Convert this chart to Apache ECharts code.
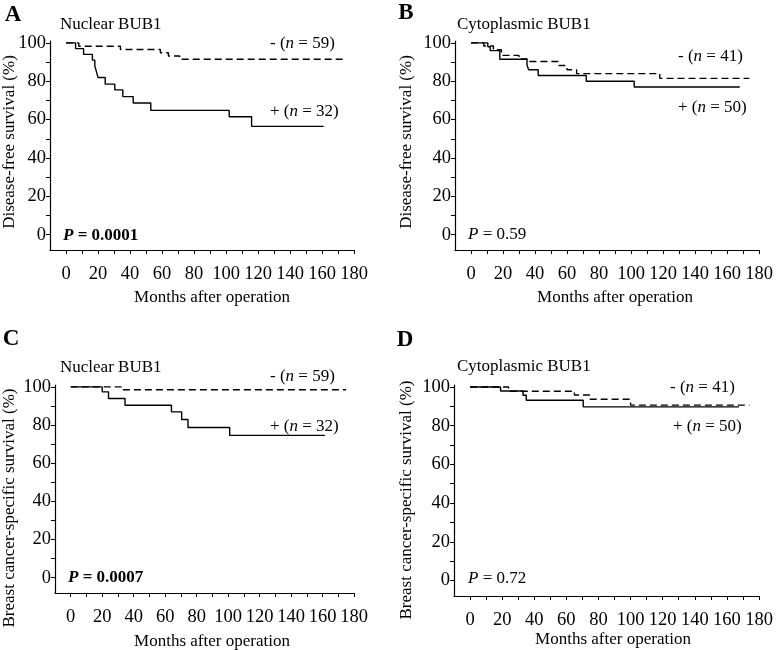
<!DOCTYPE html>
<html>
<head>
<meta charset="utf-8">
<script src="https://cdn.jsdelivr.net/npm/echarts@6/dist/echarts.min.js"></script>
<style>
  html, body { margin: 0; padding: 0; background: #fff; }
  #main { width: 777px; height: 650px; }
</style>
</head>
<body>
<div id="main"></div>
<script>
// tick values
const monthLabels = [0, 20, 40, 60, 80, 100, 120, 140, 160, 180];
const monthTicks = [0, 10, 20, 30, 40, 50, 60, 70, 80, 90, 100, 110, 120, 130, 140, 150, 160, 170, 180];
const survLabels = [0, 20, 40, 60, 80, 100];
const survTicks = [0, 10, 20, 30, 40, 50, 60, 70, 80, 90, 100];

// Kaplan-Meier curves, [month, survival %], value drops at the given month
const nuclearDfsPos = [[0, 100], [6, 97], [11, 94], [16.5, 91], [18, 88], [19, 85], [20, 82], [24.5, 78.5], [30.5, 75.5], [35.5, 72], [42, 68.7], [53, 64.8], [102, 61.5], [116, 56.5], [161, 56.5]];
const nuclearDfsNeg = [[0, 100], [8, 98.3], [34, 96.6], [59, 94.9], [64, 93.2], [71, 91.5], [175, 91.5]];
const cytoDfsPos = [[0, 100], [10.5, 98], [12, 96], [18, 91.5], [35, 88.5], [36, 86], [42, 83], [72, 80], [102, 77], [168, 77]];
const cytoDfsNeg = [[0, 100], [8, 98.4], [14, 96.4], [19, 93.5], [30, 91.7], [35, 90.3], [55, 88.2], [60, 86], [66, 84], [118, 81.5], [174, 81.5]];
const nuclearBcssPos = [[0, 100], [20, 97.4], [24, 93.9], [34.5, 90.4], [64, 86.9], [70.5, 82.9], [74.5, 78.7], [101, 74.6], [161.5, 74.6]];
const nuclearBcssNeg = [[0, 100], [32, 98.5], [175, 98.5]];
const cytoBcssPos = [[0, 100], [19, 97.9], [33, 95.7], [35, 93.1], [70.5, 89.7], [167.5, 89.7]];
const cytoBcssNeg = [[0, 100], [24, 97.8], [65, 95.8], [74.5, 93.6], [100, 90.6], [174, 90.6]];

const serif = '"Liberation Serif", "Times New Roman", serif';
const fs = 17;
const tickFs = 18.5;

const myChart = echarts.init(document.getElementById('main'));

// grids in pixels: A, B, C, D
const grids = [
  { left: 50, top: 41, width: 304, height: 209 },
  { left: 455, top: 41, width: 304, height: 209 },
  { left: 55, top: 385, width: 299, height: 208 },
  { left: 454, top: 385, width: 305, height: 211 }
];

function xAxisFor(i) {
  return {
    type: 'value', gridIndex: i, min: -10, max: 180,
    axisLine: { show: true, onZero: false, lineStyle: { color: '#000', width: 1.2 } },
    axisTick: { show: true, length: 4, customValues: monthTicks, lineStyle: { color: '#000', width: 1 } },
    axisLabel: { customValues: monthLabels, margin: 15, color: '#000', fontFamily: serif, fontSize: tickFs },
    splitLine: { show: false }
  };
}

function yAxisFor(i) {
  return {
    type: 'value', gridIndex: i, min: -8, max: 101,
    axisLine: { show: true, onZero: false, lineStyle: { color: '#000', width: 1.2 } },
    axisTick: { show: true, length: 4, customValues: survTicks, lineStyle: { color: '#000', width: 1 } },
    axisLabel: { customValues: survLabels, margin: 4, color: '#000', fontFamily: serif, fontSize: tickFs },
    splitLine: { show: false }
  };
}

function km(data, i, dashed) {
  return {
    type: 'line', step: 'end', data: data,
    xAxisIndex: i, yAxisIndex: i,
    showSymbol: false, silent: true,
    lineStyle: { color: '#000', width: 1.4, type: dashed ? [7, 4] : 'solid' }
  };
}

const rich = {
  n: { fontFamily: serif, fontSize: fs, fill: '#000' },
  i: { fontFamily: serif, fontSize: fs, fontStyle: 'italic', fill: '#000' },
  b: { fontFamily: serif, fontSize: fs, fontWeight: 'bold', fill: '#000' },
  bi: { fontFamily: serif, fontSize: fs, fontWeight: 'bold', fontStyle: 'italic', fill: '#000' }
};

function txt(x, y, text, extra) {
  return Object.assign({
    type: 'text', x: x, y: y, silent: true,
    style: Object.assign({
      text: text, fontFamily: serif, fontSize: fs, fill: '#000',
      align: 'left', verticalAlign: 'middle', rich: rich
    }, (extra && extra.style) || {})
  }, (extra && extra.el) || {});
}

function letter(x, y, t) {
  return txt(x, y, t, { style: { align: 'center', fontSize: 23, fontWeight: 'bold' } });
}
function yName(x, y, t) {
  return txt(x, y, t, { style: { align: 'center' }, el: { rotation: Math.PI / 2 } });
}
function xName(x, y) {
  return txt(x, y, 'Months after operation', { style: { align: 'center' } });
}

const graphics = [
  // A
  letter(13, 15, 'A'),
  txt(60, 25, 'Nuclear BUB1'),
  txt(270, 44, '{n|- (}{i|n}{n| = 59)}'),
  txt(270, 112, '{n|+ (}{i|n}{n| = 32)}'),
  txt(63, 236, '{bi|P}{b| = 0.0001}'),
  yName(10, 142, 'Disease-free survival (%)'),
  xName(212, 298),
  // B
  letter(406, 13, 'B'),
  txt(457, 25, 'Cytoplasmic BUB1'),
  txt(678, 57, '{n|- (}{i|n}{n| = 41)}'),
  txt(678, 108, '{n|+ (}{i|n}{n| = 50)}'),
  txt(468, 235, '{i|P}{n| = 0.59}'),
  yName(407, 142, 'Disease-free survival (%)'),
  xName(615, 298),
  // C
  letter(11, 339, 'C'),
  txt(60, 368, 'Nuclear BUB1'),
  txt(270, 377, '{n|- (}{i|n}{n| = 59)}'),
  txt(270, 427, '{n|+ (}{i|n}{n| = 32)}'),
  txt(68, 578, '{bi|P}{b| = 0.0007}'),
  yName(10, 508, 'Breast cancer-specific survival (%)'),
  xName(212, 642),
  // D
  letter(405, 340, 'D'),
  txt(457, 367, 'Cytoplasmic BUB1'),
  txt(670, 388, '{n|- (}{i|n}{n| = 41)}'),
  txt(673, 427, '{n|+ (}{i|n}{n| = 50)}'),
  txt(468, 579, '{i|P}{n| = 0.72}'),
  yName(407, 500, 'Breast cancer-specific survival (%)'),
  xName(613, 640)
];

const option = {
  backgroundColor: '#fff',
  animation: false,
  grid: grids,
  xAxis: [xAxisFor(0), xAxisFor(1), xAxisFor(2), xAxisFor(3)],
  yAxis: [yAxisFor(0), yAxisFor(1), yAxisFor(2), yAxisFor(3)],
  series: [
    km(nuclearDfsNeg, 0, true),
    km(nuclearDfsPos, 0, false),
    km(cytoDfsNeg, 1, true),
    km(cytoDfsPos, 1, false),
    km(nuclearBcssNeg, 2, true),
    km(nuclearBcssPos, 2, false),
    km(cytoBcssNeg, 3, true),
    km(cytoBcssPos, 3, false)
  ],
  graphic: graphics
};
myChart.setOption(option);
</script>
</body>
</html>
